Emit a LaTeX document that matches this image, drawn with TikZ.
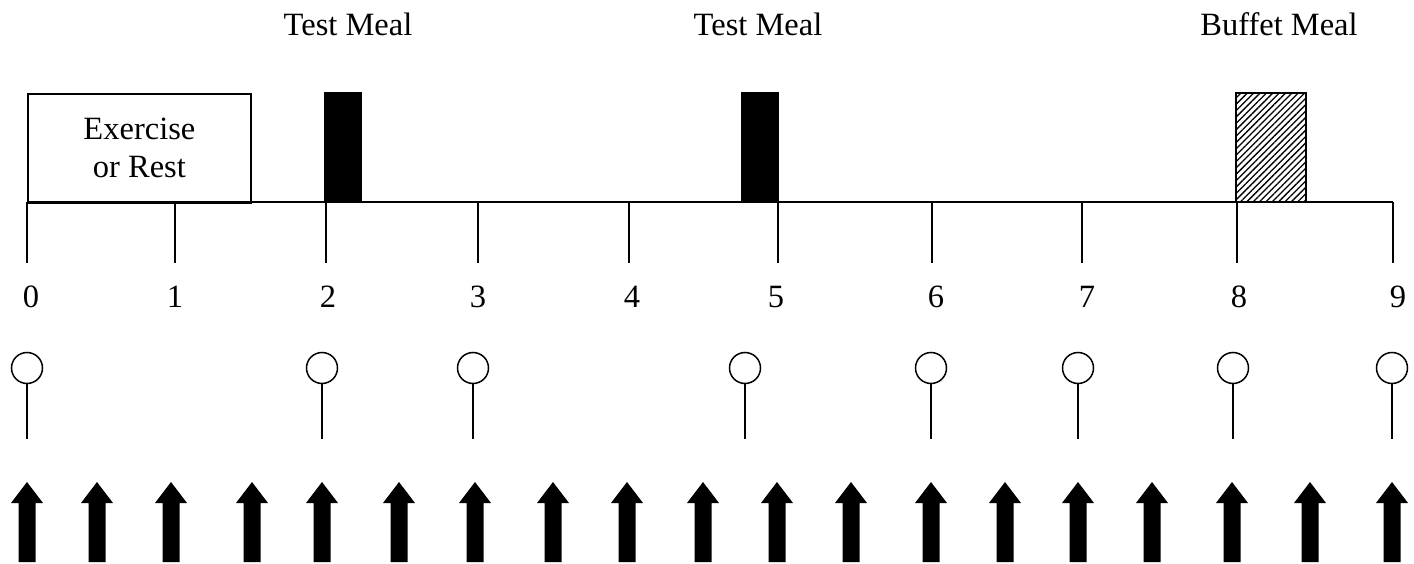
\documentclass[tikz,border=0pt]{standalone}
\usepackage{fontspec}
\setmainfont{Liberation Serif}
\usetikzlibrary{patterns.meta}
\begin{document}
\begin{tikzpicture}[x=1pt,y=-1pt,line width=1.8pt,
  lbl/.style={font=\fontsize{32.5}{38}\selectfont, inner sep=0pt},
  meal/.style={draw, line width=1.2pt, fill=black},
  buffet/.style={draw, line width=1.8pt, pattern={Lines[angle=45,distance=4.5pt,line width=1.3pt]}},
  pinline/.style={line width=1.5pt},
  pinhead/.style={circle, draw, line width=1.5pt, minimum size=31pt, inner sep=0pt},
  bigarrow/.style={fill=black}]
\useasboundingbox (0,0) rectangle (1414,564);
% axis
\coordinate (a0) at (27,202);
\coordinate (a9) at (1393,202);
\draw (a0) -- (a9);
\foreach \i/\x/\lx in {0/27/31,1/175/175,2/326/328,3/478/478,4/629/632,5/778/776,6/932/936,7/1082/1087,8/1237/1239,9/1393/1398}{
  \coordinate (t\i) at (\x,202);
  \coordinate (b\i) at (\x,263);
  \draw (t\i) -- (b\i);
  \node[lbl, anchor=base] (n\i) at (\lx,307) {\i};
}
% exercise box
\node[draw, lbl, align=center, minimum width=223pt, minimum height=109pt, anchor=north west] (ex) at (27,93) {Exercise\\or Rest};
% meals
\draw[meal] (325,93) rectangle (361,202);
\draw[meal] (742,93) rectangle (778,202);
\draw[buffet] (1236,93) rectangle (1306,202);
\node[lbl, anchor=base] (m1) at (348,36) {Test Meal};
\node[lbl, anchor=base] (m2) at (758,36) {Test Meal};
\node[lbl, anchor=base] (m3) at (1279,36) {Buffet Meal};
% pins
\foreach \j/\x in {1/27,2/322,3/473,4/745,5/931,6/1078,7/1233,8/1392}{
  \node[pinhead] (p\j) at (\x,368) {};
  \coordinate (q\j) at (\x,439);
  \draw[pinline] (p\j.south) -- (q\j);
}
% arrows
\foreach \x in {27,97,171,252,322,399,475,553,627,703,777,851,931,1005,1078,1152,1232,1310,1392}{
  \fill[bigarrow] (\x,482) -- (\x+16,503) -- (\x+8.5,503) -- (\x+8.5,562) -- (\x-8.5,562) -- (\x-8.5,503) -- (\x-16,503) -- cycle;
}
\end{tikzpicture}
\end{document}
